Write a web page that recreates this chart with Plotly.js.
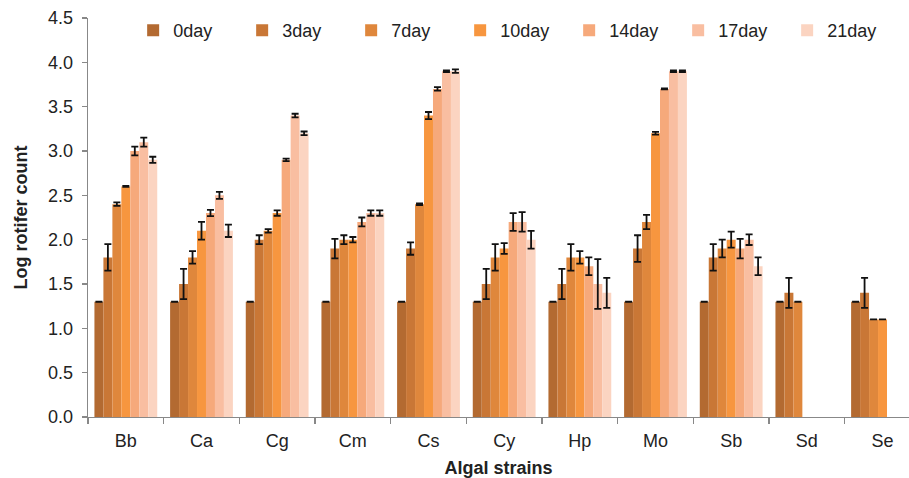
<!DOCTYPE html>
<html>
<head>
<meta charset="utf-8">
<script src="https://cdn.plot.ly/plotly-3.0.1.min.js"></script>
<style>html,body{margin:0;padding:0;background:#fff;}#chart{width:909px;height:478px;}</style>
</head>
<body>
<div id="chart"></div>
<script>
const categories = ['Bb','Ca','Cg','Cm','Cs','Cy','Hp','Mo','Sb','Sd','Se'];
const seriesNames = ['0day','3day','7day','10day','14day','17day','21day'];

const day0  = [1.3,1.3,1.3,1.3,1.3,1.3,1.3,1.3,1.3,1.3,1.3];
const day3  = [1.8,1.5,2.0,1.9,1.9,1.5,1.5,1.9,1.8,1.4,1.4];
const day7  = [2.4,1.8,2.1,2.0,2.4,1.8,1.8,2.2,1.9,1.3,1.1];
const day10 = [2.6,2.1,2.3,2.0,3.4,1.9,1.8,3.2,2.0,null,1.1];
const day14 = [3.0,2.3,2.9,2.2,3.7,2.2,1.7,3.7,1.9,null,null];
const day17 = [3.1,2.5,3.4,2.3,3.9,2.2,1.5,3.9,2.0,null,null];
const day21 = [2.9,2.1,3.2,2.3,3.9,2.0,1.4,3.9,1.7,null,null];

const err0  = [0,0,0,0,0,0,0,0,0,0,0];
const err3  = [0.15,0.17,0.05,0.11,0.07,0.17,0.17,0.15,0.15,0.17,0.17];
const err7  = [0.02,0.07,0.02,0.05,0.01,0.15,0.15,0.08,0.10,0,0];
const err10 = [0.005,0.10,0.03,0.03,0.04,0.06,0.07,0.015,0.09,null,0];
const err14 = [0.05,0.035,0.015,0.05,0.02,0.10,0.10,0.005,0.11,null,null];
const err17 = [0.05,0.04,0.02,0.03,0.01,0.11,0.28,0.01,0.06,null,null];
const err21 = [0.035,0.07,0.02,0.03,0.02,0.10,0.17,0.01,0.10,null,null];

const colors = ['#b36a31','#c97736','#df873c','#f7963f','#f6a97b','#f9bea1','#fbd4c1'];

const values = [day0,day3,day7,day10,day14,day17,day21];
const errors = [err0,err3,err7,err10,err14,err17,err21];

const font = 'Liberation Sans, Arial, sans-serif';

const traces = seriesNames.map((name,i) => ({
  type: 'bar',
  name: name,
  x: categories,
  y: values[i],
  marker: {color: colors[i], line: {width: 0}},
  error_y: {type: 'data', array: errors[i], visible: true, color: '#111', thickness: 1.8, width: 3.5}
}));

const layout = {
  width: 909, height: 478,
  margin: {l: 88, r: 0, t: 18, b: 61},
  paper_bgcolor: '#fff', plot_bgcolor: '#fff',
  barmode: 'group',
  bargap: 0.17,
  bargroupgap: 0,
  font: {family: font, color: '#222', size: 18},
  showlegend: true,
  legend: {
    orientation: 'h', x: 0.055, y: 1.015, xanchor: 'left', yanchor: 'top',
    font: {family: font, size: 18, color: '#222'},
    bgcolor: 'rgba(0,0,0,0)',
    entrywidth: 64, entrywidthmode: 'pixels',
    itemwidth: 30, traceorder: 'normal'
  },
  xaxis: {
    type: 'category',
    range: [-0.5, 10.35],
    showline: true, linecolor: '#888', linewidth: 1.3,
    ticks: 'outside', tickson: 'boundaries', ticklen: 6, tickcolor: '#888', tickwidth: 1.3,
    ticklabelstandoff: 7,
    showgrid: false, zeroline: false,
    tickfont: {family: font, size: 18, color: '#222'},
    title: {text: '<b>Algal strains</b>', font: {family: font, size: 18, color: '#222'}, standoff: 11}
  },
  yaxis: {
    range: [0, 4.5], dtick: 0.5, tick0: 0, tickformat: '.1f',
    showline: true, linecolor: '#888', linewidth: 1.3,
    ticks: 'outside', ticklen: 5, tickcolor: '#888', tickwidth: 1.3,
    ticklabelstandoff: 5,
    showgrid: false, zeroline: false,
    tickfont: {family: font, size: 18, color: '#222'},
    title: {text: '<b>Log rotifer count</b>', font: {family: font, size: 18, color: '#222'}, standoff: 15}
  }
};

Plotly.newPlot('chart', traces, layout, {displayModeBar: false, staticPlot: true});
</script>
</body>
</html>
